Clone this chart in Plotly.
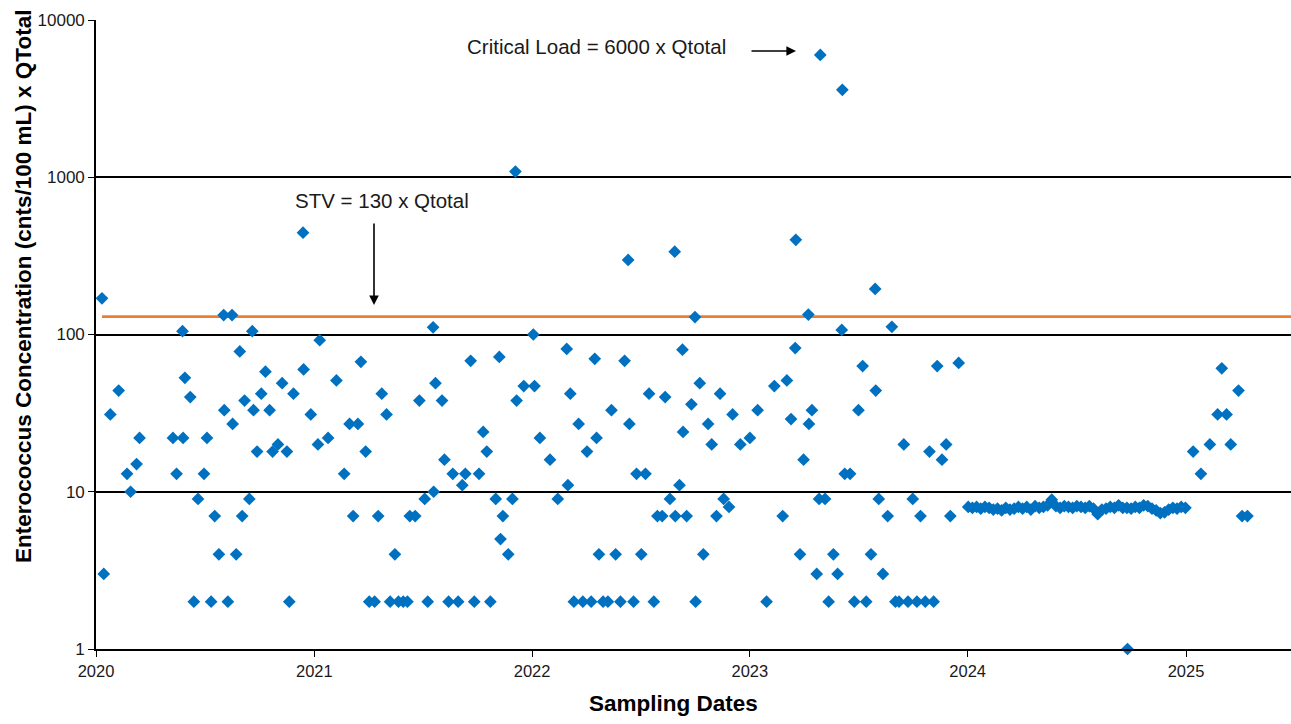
import plotly.graph_objects as go

# ---------------- data ----------------
dates_2020 = ["2020-01-11", "2020-01-14", "2020-01-25", "2020-02-08", "2020-02-22", "2020-02-28",
              "2020-03-09", "2020-03-14", "2020-05-09", "2020-05-15", "2020-05-25", "2020-05-26",
              "2020-05-29", "2020-06-07", "2020-06-13", "2020-06-20", "2020-06-30", "2020-07-05",
              "2020-07-12", "2020-07-18", "2020-07-25", "2020-08-02", "2020-08-03", "2020-08-09",
              "2020-08-16", "2020-08-17", "2020-08-23", "2020-08-29", "2020-09-02", "2020-09-06",
              "2020-09-14", "2020-09-19", "2020-09-21", "2020-09-27", "2020-10-04", "2020-10-11",
              "2020-10-18", "2020-10-23", "2020-11-01", "2020-11-08", "2020-11-16", "2020-11-20",
              "2020-11-27", "2020-12-13", "2020-12-14", "2020-12-26"]
values_2020 = [170, 3, 31, 44, 13, 10,
               15, 22, 22, 13, 105, 22,
               53, 40, 2, 9, 13, 22,
               2, 7, 4, 133, 33, 2,
               133, 27, 4, 78, 7, 38,
               9, 105, 33, 18, 42, 58,
               33, 18, 20, 49, 18, 2,
               42, 444, 60, 31]

dates_2021 = ["2021-01-07", "2021-01-10", "2021-01-24", "2021-02-07", "2021-02-20", "2021-03-01",
              "2021-03-07", "2021-03-15", "2021-03-20", "2021-03-28", "2021-04-03", "2021-04-12",
              "2021-04-18", "2021-04-24", "2021-05-02", "2021-05-08", "2021-05-16", "2021-05-22",
              "2021-05-30", "2021-06-06", "2021-06-10", "2021-06-19", "2021-06-26", "2021-07-05",
              "2021-07-10", "2021-07-19", "2021-07-20", "2021-07-23", "2021-08-03", "2021-08-07",
              "2021-08-14", "2021-08-21", "2021-08-30", "2021-09-06", "2021-09-11", "2021-09-20",
              "2021-09-26", "2021-10-04", "2021-10-11", "2021-10-17", "2021-10-23", "2021-11-01",
              "2021-11-07", "2021-11-09", "2021-11-13", "2021-11-22", "2021-11-29", "2021-12-04",
              "2021-12-06", "2021-12-18"]
values_2021 = [20, 92, 22, 51, 13, 27,
               7, 27, 67, 18, 2, 2,
               7, 42, 31, 2, 4, 2,
               2, 2, 7, 7, 38, 9,
               2, 111, 10, 49, 38, 16,
               2, 13, 2, 11, 13, 68,
               2, 13, 24, 18, 2, 9,
               72, 5, 7, 4, 9, 1086,
               38, 47]

dates_2022 = ["2022-01-03", "2022-01-05", "2022-01-14", "2022-01-31", "2022-02-13", "2022-02-28",
              "2022-03-02", "2022-03-06", "2022-03-12", "2022-03-20", "2022-03-27", "2022-04-03",
              "2022-04-10", "2022-04-16", "2022-04-19", "2022-04-23", "2022-04-30", "2022-05-08",
              "2022-05-14", "2022-05-21", "2022-05-29", "2022-06-05", "2022-06-11", "2022-06-13",
              "2022-06-20", "2022-06-25", "2022-07-03", "2022-07-10", "2022-07-16", "2022-07-24",
              "2022-07-30", "2022-08-07", "2022-08-12", "2022-08-20", "2022-08-28", "2022-08-29",
              "2022-09-05", "2022-09-10", "2022-09-11", "2022-09-17", "2022-09-25", "2022-10-01",
              "2022-10-02", "2022-10-09", "2022-10-15", "2022-10-23", "2022-10-29", "2022-11-06",
              "2022-11-12", "2022-11-18", "2022-11-27", "2022-12-03", "2022-12-16"]
values_2022 = [100, 47, 22, 16, 9, 81,
               11, 42, 2, 27, 2, 18,
               2, 70, 22, 4, 2, 2,
               33, 4, 2, 68, 298, 27,
               2, 13, 4, 13, 42, 2,
               7, 7, 40, 9, 336, 7,
               11, 80, 24, 7, 36, 129,
               2, 49, 4, 27, 20, 7,
               42, 9, 8, 31, 20]

dates_2023 = ["2023-01-01", "2023-01-14", "2023-01-29", "2023-02-11", "2023-02-25", "2023-03-04",
              "2023-03-11", "2023-03-18", "2023-03-19", "2023-03-26", "2023-04-01", "2023-04-09",
              "2023-04-10", "2023-04-15", "2023-04-23", "2023-04-27", "2023-04-29", "2023-05-07",
              "2023-05-13", "2023-05-21", "2023-05-28", "2023-06-04", "2023-06-05", "2023-06-09",
              "2023-06-18", "2023-06-25", "2023-07-02", "2023-07-09", "2023-07-15", "2023-07-23",
              "2023-07-30", "2023-07-31", "2023-08-05", "2023-08-12", "2023-08-20", "2023-08-27",
              "2023-09-02", "2023-09-08", "2023-09-16", "2023-09-23", "2023-10-01", "2023-10-08",
              "2023-10-14", "2023-10-22", "2023-10-29", "2023-11-05", "2023-11-11", "2023-11-19",
              "2023-11-26", "2023-12-03", "2023-12-17"]
values_2023 = [22, 33, 2, 47, 7, 51,
               29, 82, 400, 4, 16, 134,
               27, 33, 3, 9, 6000, 9,
               2, 4, 3, 107, 3600, 13,
               13, 2, 33, 63, 2, 4,
               195, 44, 9, 3, 7, 112,
               2, 2, 20, 2, 9, 2,
               7, 2, 18, 2, 63, 16,
               20, 7, 66]

dates_2024 = ["2024-01-02", "2024-01-09", "2024-01-16", "2024-01-23", "2024-01-30", "2024-02-06",
              "2024-02-13", "2024-02-20", "2024-02-27", "2024-03-05", "2024-03-12", "2024-03-19",
              "2024-03-26", "2024-04-02", "2024-04-09", "2024-04-16", "2024-04-23", "2024-04-30",
              "2024-05-07", "2024-05-14", "2024-05-21", "2024-05-28", "2024-06-04", "2024-06-11",
              "2024-06-18", "2024-06-25", "2024-07-02", "2024-07-09", "2024-07-16", "2024-07-23",
              "2024-07-30", "2024-08-06", "2024-08-13", "2024-08-20", "2024-08-27", "2024-09-03",
              "2024-09-10", "2024-09-17", "2024-09-24", "2024-09-25", "2024-10-01", "2024-10-08",
              "2024-10-15", "2024-10-22", "2024-10-29", "2024-11-05", "2024-11-12", "2024-11-19",
              "2024-11-26", "2024-12-03", "2024-12-10", "2024-12-17", "2024-12-24", "2024-12-31"]
values_2024 = [8.0, 7.9, 8.0, 7.8, 8.0, 7.9,
               7.7, 7.8, 7.6, 7.9, 7.7, 7.8,
               8.0, 7.8, 8.0, 7.7, 8.1, 7.9,
               8.0, 8.2, 8.9, 8.1, 7.9, 8.1,
               8.0, 7.9, 8.1, 8.0, 7.9, 8.1,
               7.8, 7.2, 7.7, 7.8, 8.0, 7.9,
               8.2, 7.9, 7.9, 1.0, 7.8, 8.0,
               7.9, 8.2, 8.1, 7.8, 7.6, 7.3,
               7.4, 7.7, 7.9, 7.8, 8.0, 7.9]

dates_2025 = ["2025-01-13", "2025-01-26", "2025-02-10", "2025-02-23", "2025-03-02", "2025-03-10",
              "2025-03-17", "2025-03-30", "2025-04-05", "2025-04-14"]
values_2025 = [18, 13, 20, 31, 61, 31,
               20, 44, 7, 7]

stv_value = 130
x_axis_end = "2025-06-26"
y_tick_values = [1, 10, 100, 1000, 10000]
y_tick_labels = ["1", "10", "100", "1000", "10000"]

sample_dates = dates_2020 + dates_2021 + dates_2022 + dates_2023 + dates_2024 + dates_2025
sample_values = values_2020 + values_2021 + values_2022 + values_2023 + values_2024 + values_2025

# ---------------- figure ----------------
FONT = "Liberation Sans, Arial, sans-serif"
BLUE = "#0070C0"
ORANGE = "#ED7D31"
TXT = "#1a1a1a"

W, H = 1291, 724
PL, PT, PW, PH = 96, 20, 1195, 629   # plot area on screen


def px(sx):
    return (sx - PL) / PW


def py(sy):
    return (PT + PH - sy) / PH


fig = go.Figure()

fig.add_trace(go.Scatter(
    x=[sample_dates[0], x_axis_end], y=[stv_value, stv_value],
    mode="lines", line=dict(color=ORANGE, width=2.8),
    hoverinfo="skip", showlegend=False, cliponaxis=False,
))

fig.add_trace(go.Scatter(
    x=sample_dates, y=sample_values, mode="markers",
    marker=dict(symbol="diamond", size=9.8, color=BLUE, line=dict(width=0)),
    showlegend=False, cliponaxis=False,
))

fig.update_layout(
    width=W, height=H,
    margin=dict(l=PL, r=W - PL - PW, t=PT, b=H - PT - PH, autoexpand=False),
    paper_bgcolor="white", plot_bgcolor="white",
    font=dict(family=FONT, size=16, color=TXT),
    showlegend=False,
)

fig.update_xaxes(
    type="date", range=["2020-01-01", x_axis_end],
    tick0="2020-01-01", dtick="M12", tickformat="%Y",
    showgrid=False, zeroline=False,
    showline=True, linecolor="black", linewidth=1.6,
    ticks="outside", ticklen=6, tickwidth=1.3, tickcolor="black",
    tickfont=dict(family=FONT, size=16.5, color=TXT),
)

fig.update_yaxes(
    type="log", range=[0, 4],
    tickvals=y_tick_values, ticktext=y_tick_labels,
    showgrid=True, gridcolor="black", gridwidth=1.5,
    zeroline=False,
    showline=True, linecolor="black", linewidth=1.6,
    ticks="outside", ticklen=6, tickwidth=1.3, tickcolor="black",
    tickfont=dict(family=FONT, size=17, color=TXT),
)

annotations = [
    # Y axis title
    dict(text="<b>Enterococcus Concentration (cnts/100 mL) x QTotal</b>",
         xref="paper", yref="paper", x=px(23), y=py(287),
         textangle=-90, showarrow=False, xanchor="center", yanchor="middle",
         font=dict(family=FONT, size=22.5, color="black")),
    # X axis title
    dict(text="<b>Sampling Dates</b>",
         xref="paper", yref="paper", x=px(673), y=py(703),
         showarrow=False, xanchor="center", yanchor="middle",
         font=dict(family=FONT, size=22.5, color="black")),
    # STV text
    dict(text="STV = 130 x Qtotal",
         xref="paper", yref="paper", x=px(382), y=py(200),
         showarrow=False, xanchor="center", yanchor="middle",
         font=dict(family=FONT, size=20.5, color=TXT)),
    # STV arrow
    dict(text="", xref="paper", yref="paper",
         x=px(374), y=py(305), ax=0, ay=-83,
         showarrow=True, arrowhead=2, arrowsize=1.2, arrowwidth=1.6, arrowcolor="black"),
    # Critical load text
    dict(text="Critical Load = 6000 x Qtotal",
         xref="paper", yref="paper", x=px(596), y=py(47),
         showarrow=False, xanchor="center", yanchor="middle",
         font=dict(family=FONT, size=20.5, color=TXT)),
    # Critical load arrow
    dict(text="", xref="paper", yref="paper",
         x=px(796), y=py(51), ax=-46, ay=0,
         showarrow=True, arrowhead=2, arrowsize=1.2, arrowwidth=1.6, arrowcolor="black"),
]
fig.update_layout(annotations=annotations)

# remove the default 8px page margin so the figure fills the window exactly
fig.write_html(
    "out.html",
    config={"displayModeBar": False},
    post_script="document.body.style.margin='0';document.body.style.overflow='hidden';",
)
